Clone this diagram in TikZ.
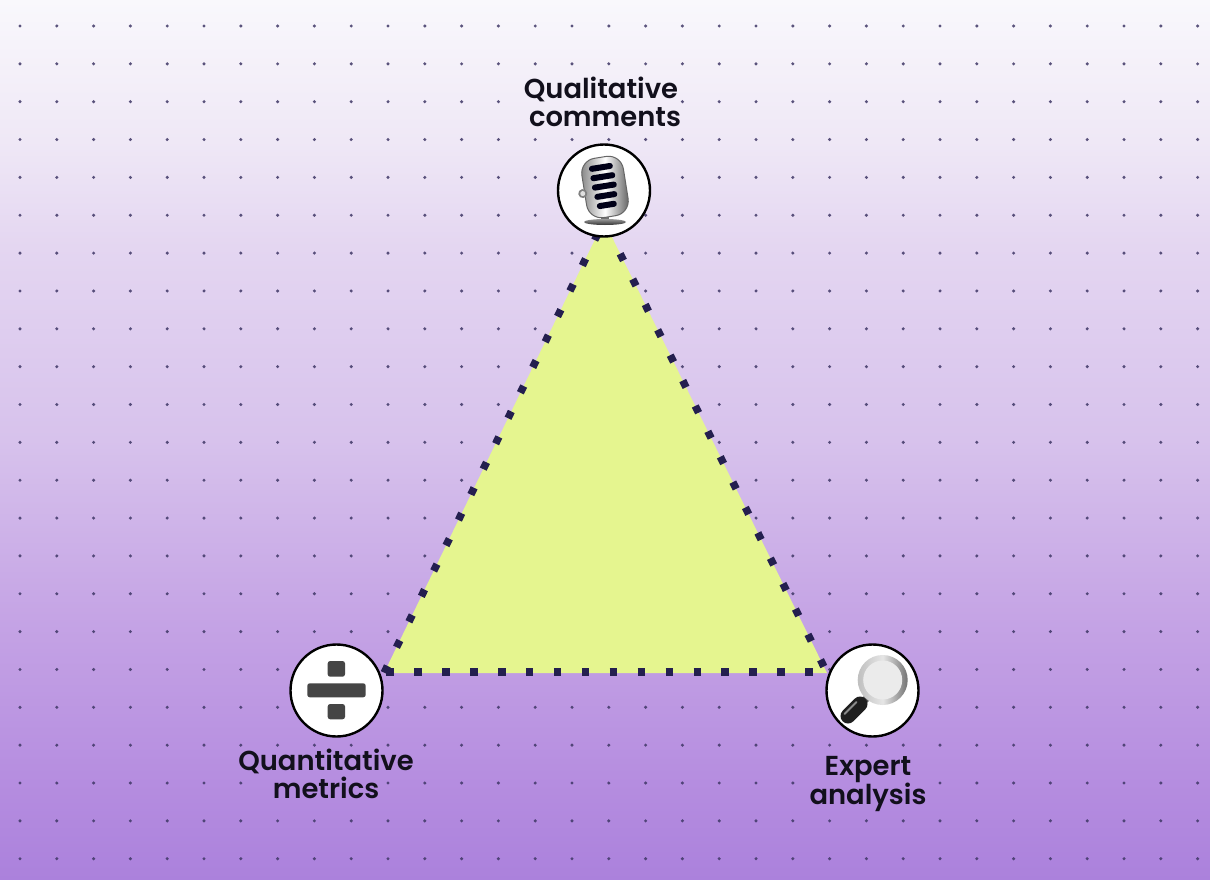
\documentclass[tikz,border=0pt]{standalone}
\usepackage{fontspec}
\setmainfont{Poppins}[BoldFont={Poppins SemiBold}]
\usetikzlibrary{calc}
\definecolor{trifill}{HTML}{E5F58F}
\definecolor{navy}{HTML}{241F4F}
\definecolor{griddot}{HTML}{3F3766}
\definecolor{inkc}{HTML}{12101C}
\definecolor{divc}{HTML}{454545}
\pgfdeclareverticalshading{bgshade}{100bp}{
  color(0bp)=(rgb,255:red,171;green,129;blue,220);
  color(25bp)=(rgb,255:red,171;green,129;blue,220);
  color(31bp)=(rgb,255:red,182;green,142;blue,224);
  color(40bp)=(rgb,255:red,197;green,164;blue,229);
  color(50bp)=(rgb,255:red,215;green,194;blue,236);
  color(61bp)=(rgb,255:red,228;green,214;blue,241);
  color(67bp)=(rgb,255:red,239;green,232;blue,246);
  color(75bp)=(rgb,255:red,249;green,248;blue,252);
  color(100bp)=(rgb,255:red,249;green,248;blue,252)}
\tikzset{
  icon/.style={circle,draw=black,line width=2.4pt,fill=white,minimum size=92pt,inner sep=0pt},
  lbl/.style={align=center,text=inkc,font=\fontsize{27.4}{28}\selectfont\bfseries,inner sep=0pt},
  edgel/.style={draw=navy,line width=7.5pt,dash pattern=on 7.5pt off 20.8pt,dash phase=27.95},
  edger/.style={draw=navy,line width=7.5pt,dash pattern=on 7.5pt off 20.8pt,dash phase=21.05},
  edgeb/.style={draw=navy,line width=7.5pt,dash pattern=on 7.5pt off 20.43pt,dash phase=25.65},
  griddotst/.style={griddot,opacity=.85},
  divpart/.style={fill=divc,rounded corners=2.5pt}
}
\begin{document}
\begin{tikzpicture}[x=1pt,y=-1pt]
\useasboundingbox (0,0) rectangle (1210,880);
\shade[shading=bgshade] (0,0) rectangle (1210,880);
% dot grid
\foreach \c in {0,...,32}{
  \foreach \r in {0,...,22}{
    \pgfmathtruncatemacro\hid{(\r==20 && ((\c>=7 && \c<=9) || (\c>=22 && \c<=24))) || (\r==2 && \c>=14 && \c<=17) ? 1 : 0}
    \ifnum\hid=0
      \fill[griddotst] ({20+36.8*\c},{26+37.85*\r}) circle (1.7);
    \fi
  }
}
% triangle
\coordinate (ta) at (604,221);
\coordinate (tl) at (384,673);
\coordinate (tr) at (827,673);
\coordinate (bl) at (384,672);
\coordinate (br) at (826,672);
\fill[trifill] (ta) -- (tl) -- (tr) -- cycle;
\draw[edgel] (tl) -- (ta);
\draw[edger] (tr) -- (ta);
\draw[edgeb] (bl) -- (br);
% circles
\node[icon] (top) at (604,190.5) {};
\node[icon] (left) at (336.5,690.5) {};
\node[icon] (right) at (872.5,690.5) {};
% microphone
\fill[black!55] (601,212) rectangle (609,222);
\begin{scope}[shift={(605,187)},rotate=9]
  \shade[left color=black!50,right color=black!65,middle color=white,rounded corners=15pt,draw=black!60,line width=1pt] (-21,-30) rectangle (21,30);
  \fill[black!50] (-23,3) circle (4.5);
  \fill[black!12] (-23,3) circle (2.5);
  \foreach \yy/\xa/\xb in {-20/-13/11,-10.5/-13/12,-1/-13/12,8.5/-12/11,18/-11/9}{
    \fill[black!85!blue!60!black,rounded corners=2.8pt] (\xa,\yy-3) rectangle (\xb,\yy+3);
  }
\end{scope}
\shade[top color=black!40,bottom color=black!80] (605,222) ellipse (21 and 3);
% division sign
\fill[divpart] (327.7,661) rectangle (345,676.7);
\fill[divpart] (307.3,683.3) rectangle (365.7,697.3);
\fill[divpart] (327.7,704) rectangle (345,719.3);
% magnifier
\draw[line width=7pt,black!65] (862,703) -- (868,697);
\draw[line width=15pt,black!88,line cap=round] (848,716) -- (860,704);
\draw[line width=2pt,black!45,line cap=round] (844.5,714) -- (856.5,702);
\shade[left color=black!25,right color=black!55,middle color=black!10] (882.7,680) circle (25);
\fill[black!8] (882.7,680) circle (19.5);
% labels
\node[lbl] (q) at (601,102) {Qualitative\\\hspace*{8pt}comments};
\node[lbl] (m) at (326,774) {Quantitative\\metrics};
\node[lbl] (e) at (868,784) {Expert\\analysis};
\end{tikzpicture}
\end{document}
